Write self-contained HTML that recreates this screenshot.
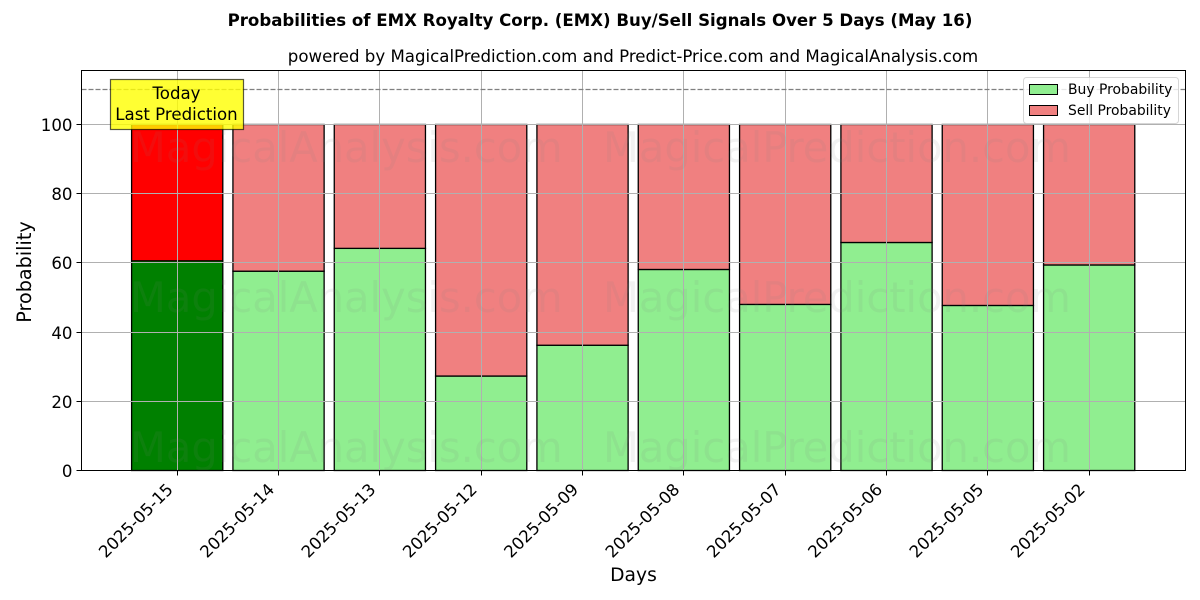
<!DOCTYPE html>
<html>
<head>
<meta charset="utf-8">
<style>
html,body{margin:0;padding:0;background:#fff;}
svg{display:block;font-family:"DejaVu Sans","Liberation Sans",sans-serif;}
</style>
</head>
<body>
<svg id="chart" width="1200" height="600" viewBox="0 0 1200 600" xmlns="http://www.w3.org/2000/svg">
  <rect x="0" y="0" width="1200" height="600" fill="#ffffff"/>
  <text x="600" y="26" text-anchor="middle" font-size="16.6" font-weight="bold" fill="#000">Probabilities of EMX Royalty Corp. (EMX) Buy/Sell Signals Over 5 Days (May 16)</text>
  <text x="633" y="62" text-anchor="middle" font-size="16.62" fill="#000">powered by MagicalPrediction.com and Predict-Price.com and MagicalAnalysis.com</text>
  <g id="bars"></g>
  <g id="grid"></g>
  <g id="watermarks"></g>
  <g id="refline"></g>
  <rect x="81.5" y="70.5" width="1104" height="400" fill="none" stroke="#000" stroke-width="1"/>
  <g id="ticks"></g>
  <text transform="translate(31,272) rotate(-90)" text-anchor="middle" font-size="19.2" fill="#000">Probability</text>
  <text x="633.5" y="581" text-anchor="middle" font-size="18.7" fill="#000">Days</text>
  <g>
    <rect x="110.5" y="79.5" width="133" height="50" fill="#ffff00" fill-opacity="0.8" stroke="#000" stroke-opacity="0.65" stroke-width="1.2"/>
    <text x="176.5" y="99" text-anchor="middle" font-size="16.62" fill="#000">Today</text>
    <text x="176.5" y="120" text-anchor="middle" font-size="16.62" fill="#000">Last Prediction</text>
  </g>
  <g>
    <rect x="1023.5" y="77.5" width="155" height="46" rx="3" fill="#ffffff" fill-opacity="0.8" stroke="#cccccc" stroke-opacity="0.8"/>
    <rect x="1029.5" y="84.5" width="28" height="10" fill="#90ee90" stroke="#000"/>
    <text x="1068" y="94" font-size="13.9" fill="#000">Buy Probability</text>
    <rect x="1029.5" y="105.5" width="28" height="10" fill="#f08080" stroke="#000"/>
    <text x="1068" y="115" font-size="13.9" fill="#000">Sell Probability</text>
  </g>
</svg>
<script>
const categories = ["2025-05-15","2025-05-14","2025-05-13","2025-05-12","2025-05-09","2025-05-08","2025-05-07","2025-05-06","2025-05-05","2025-05-02"];
const buyValues = [60.6,57.6,64.2,27.3,36.2,58.1,48.0,65.9,47.7,59.4];
const sellValues = [39.4,42.4,35.8,72.7,63.8,41.9,52.0,34.1,52.3,40.6];
const yTicks = [0,20,40,60,80,100];
const referenceLevel = 110;

const NS = 'http://www.w3.org/2000/svg';
const plot = {left:81.5, right:1185.5, top:70.5, bottom:470.5};
const xScale = i => 177.2 + i * 101.33;
const yScale = v => 470.5 - v * 3.46;
const snap = p => Math.floor(p) + 0.5;
const barWidth = 91.2;

function make(tag, attrs, parent, text) {
  const el = document.createElementNS(NS, tag);
  for (const k in attrs) el.setAttribute(k, attrs[k]);
  if (text !== undefined) el.textContent = text;
  parent.appendChild(el);
  return el;
}

const barsG = document.getElementById('bars');
const gridG = document.getElementById('grid');
const ticksG = document.getElementById('ticks');
const wmG = document.getElementById('watermarks');
const refG = document.getElementById('refline');

categories.forEach((c, i) => {
  const cx = xScale(i);
  const gx = snap(cx);
  const x = cx - barWidth / 2;
  const buyTop = yScale(buyValues[i]);
  const sellTop = yScale(buyValues[i] + sellValues[i]);
  const buy = make('rect', {x:x, y:buyTop, width:barWidth, height:yScale(0) - buyTop, fill:i === 0 ? '#008000' : '#90ee90', stroke:'#000', 'stroke-width':1.3}, barsG);
  
  
  const sell = make('rect', {x:x, y:sellTop, width:barWidth, height:buyTop - sellTop, fill:i === 0 ? '#ff0000' : '#f08080', stroke:'#000', 'stroke-width':1.3}, barsG);
  
  

  const gl = make('line', {x1:gx, x2:gx, y1:plot.top, y2:plot.bottom, stroke:'#b0b0b0', 'stroke-width':1}, gridG);
  
  
  const tk = make('line', {x1:gx, x2:gx, y1:plot.bottom, y2:plot.bottom + 5, stroke:'#000', 'stroke-width':1}, ticksG);
  
  
  const lb = make('text', {transform:'translate(' + (cx - 11.7) + ',' + 482 + ') rotate(-45)', 'text-anchor':'end', 'dominant-baseline':'hanging', 'font-size':16.62, fill:'#000'}, ticksG, c);
  
  
});

yTicks.forEach(v => {
  const y = snap(yScale(v));
  const gl = make('line', {x1:plot.left, x2:plot.right, y1:y, y2:y, stroke:'#b0b0b0', 'stroke-width':1}, gridG);
  
  
  const tk = make('line', {x1:plot.left - 5, x2:plot.left, y1:y, y2:y, stroke:'#000', 'stroke-width':1}, ticksG);
  
  
  const lb = make('text', {x:plot.left - 9, y:y + 6.5, 'text-anchor':'end', 'font-size':16.62, fill:'#000'}, ticksG, String(v));
  
  
});

['162', '312', '462'].forEach(y => {
  const a = make('text', {x:130, y:y, 'font-size':41.6, fill:'#808080', 'fill-opacity':0.1}, wmG, 'MagicalAnalysis.com');
  
  
  const b = make('text', {x:603, y:y, 'font-size':41.6, fill:'#808080', 'fill-opacity':0.1}, wmG, 'MagicalPrediction.com');
  
  
});

const rl = make('line', {x1:plot.left, x2:plot.right, y1:snap(yScale(referenceLevel)), y2:snap(yScale(referenceLevel)), stroke:'#808080', 'stroke-width':1.2, 'stroke-dasharray':'5,2'}, refG);


</script>
</body>
</html>
